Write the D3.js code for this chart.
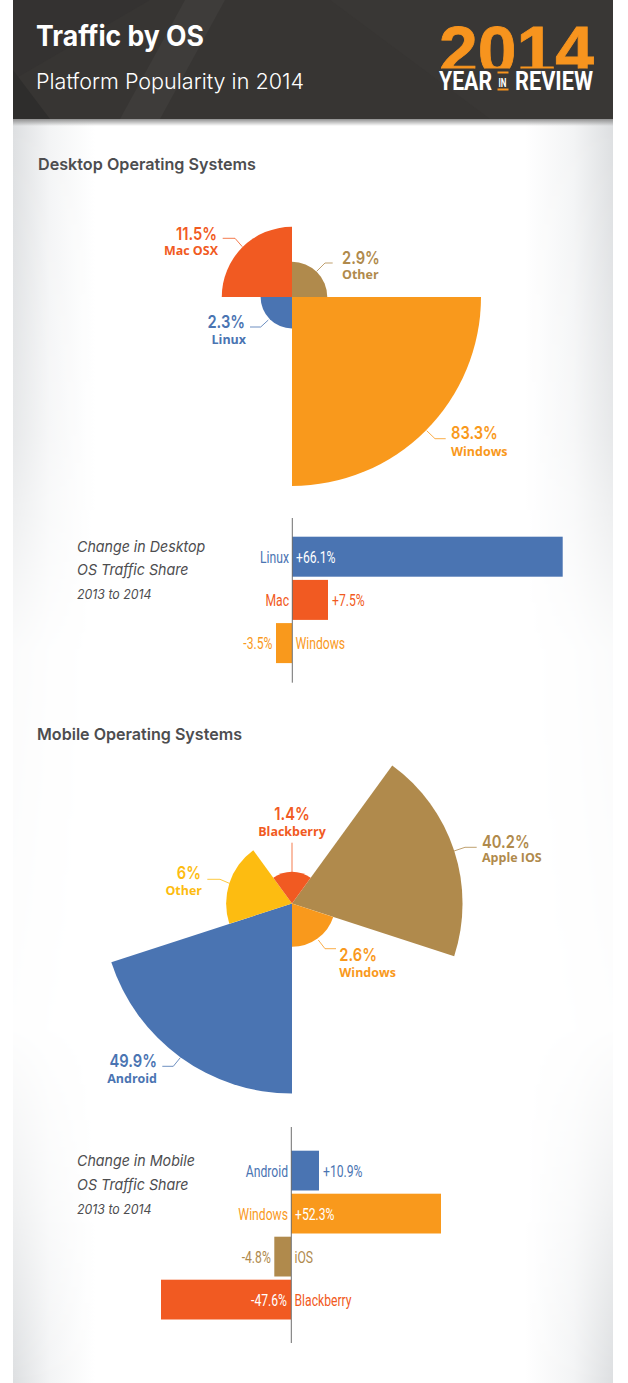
<!DOCTYPE html>
<html><head><meta charset="utf-8">
<script src="https://cdn.jsdelivr.net/npm/d3@7"></script>
<style>html,body{margin:0;padding:0;background:#fff}svg{display:block}</style>
</head><body><svg id="c" width="628" height="1383"></svg>
<script>
// ---- data ----
const desktopOS    = ["Other","Windows","Linux","Mac OSX"];
const desktopShare = [2.9,83.3,2.3,11.5];
const desktopColor = ["#b08a4c","#f9991c","#4a74b2","#f15a22"];
const mobileOS     = ["Apple IOS","Windows","Android","Other","Blackberry"];
const mobileShare  = [40.2,2.6,49.9,6,1.4];
const mobileColor  = ["#b08a4c","#f9991c","#4a74b2","#fdbc11","#f15a22"];
const desktopChangeOS    = ["Linux","Mac","Windows"];
const desktopChange      = [66.1,7.5,-3.5];
const desktopChangeColor = ["#4a74b2","#f15a22","#f9991c"];
const mobileChangeOS     = ["Android","Windows","iOS","Blackberry"];
const mobileChange       = [10.9,52.3,-4.8,-47.6];
const mobileChangeColor  = ["#4a74b2","#f9991c","#b08a4c","#f15a22"];

const svg = d3.select("#c");
const defs = svg.append("defs");
const SANS="Inter, 'Open Sans', sans-serif", NARROW="Roboto,sans-serif";

// ---- panel background ----
function hGrad(id,x1,x2){
  const g=defs.append("linearGradient").attr("id",id).attr("gradientUnits","userSpaceOnUse")
    .attr("x1",x1).attr("x2",x2).attr("y1",0).attr("y2",0);
  g.append("stop").attr("offset",0).attr("stop-color","#dddfe1");
  g.append("stop").attr("offset",.45).attr("stop-color","#f3f4f5");
  g.append("stop").attr("offset",1).attr("stop-color","#fff");
}
hGrad("gl",13,95); hGrad("gr",613,525);
const mg=defs.append("linearGradient").attr("id","mv").attr("gradientUnits","userSpaceOnUse")
  .attr("x1",0).attr("x2",0).attr("y1",120).attr("y2",1383);
[[0,1],[.25,.7],[.42,.12],[.72,.04],[.86,.45],[1,1]].forEach(([o,v])=>
  mg.append("stop").attr("offset",o).attr("stop-color","#fff").attr("stop-opacity",v));
defs.append("mask").attr("id","mk").attr("maskUnits","userSpaceOnUse")
  .attr("x",0).attr("y",0).attr("width",628).attr("height",1383)
  .append("rect").attr("width",628).attr("height",1383).attr("fill","url(#mv)");
svg.append("rect").attr("x",13).attr("y",0).attr("width",600).attr("height",1383).attr("fill","#fff");
const bgG=svg.append("g").attr("mask","url(#mk)");
bgG.append("rect").attr("x",13).attr("y",120).attr("width",90).attr("height",1263).attr("fill","url(#gl)");
bgG.append("rect").attr("x",523).attr("y",120).attr("width",90).attr("height",1263).attr("fill","url(#gr)");

// ---- header ----
const sh=defs.append("linearGradient").attr("id","sh").attr("x1",0).attr("x2",0).attr("y1",0).attr("y2",1);
sh.append("stop").attr("offset",0).attr("stop-color","#8f8f8f");
sh.append("stop").attr("offset",1).attr("stop-color","#8f8f8f").attr("stop-opacity",0);
svg.append("rect").attr("x",13).attr("y",119).attr("width",600).attr("height",7).attr("fill","url(#sh)");
svg.append("rect").attr("x",13).attr("y",0).attr("width",600).attr("height",119).attr("fill","#373533");
[["M13,0H150L13,80Z","#343231"],["M185,0H225L160,119H120Z","#3e3c3a"],["M330,0H613V119H490Z","#393735"],["M13,70L50,119H13Z","#2e2d2c"]]
  .forEach(([d,f])=>svg.append("path").attr("d",d).attr("fill",f));

function text(x,y,s,o){
  const t=svg.append("text").attr("x",x).attr("y",y).text(s)
    .attr("font-family",o.font||SANS).attr("font-size",o.size).attr("fill",o.fill)
    .attr("font-weight",o.weight||400).attr("text-anchor",o.anchor||"start");
  if(o.italic)t.attr("font-style","italic");
  if(o.squeeze){ // condense about the anchor point
    t.attr("transform",`translate(${x},0) scale(${o.squeeze},1) translate(${-x},0)`);
  }
  if(o.len)t.attr("textLength",o.len).attr("lengthAdjust","spacingAndGlyphs");
  return t;
}
text(36,46,"Traffic by OS",{size:28,weight:700,fill:"#fff",len:168});
text(36,89,"Platform Popularity in 2014",{size:22,weight:300,fill:"#fff",len:268});
defs.append("clipPath").attr("id","logo").append("rect").attr("x",430).attr("y",20).attr("width",170).attr("height",48.5);
text(439,74,"2014",{size:69,weight:700,fill:"#f7941e",font:"'Liberation Sans',sans-serif",len:155})
  .attr("clip-path","url(#logo)").attr("stroke","#f7941e").attr("stroke-width",.8);
text(439,90,"YEAR",{size:25,weight:700,fill:"#fff",font:NARROW,len:53});
text(498.5,86.5,"IN",{size:13,weight:700,fill:"#fff",font:NARROW,len:8});
svg.append("rect").attr("x",497.5).attr("y",71.5).attr("width",11).attr("height",2).attr("fill","#f7941e");
svg.append("rect").attr("x",497.5).attr("y",88.5).attr("width",11).attr("height",2).attr("fill","#f7941e");
text(515,90,"REVIEW",{size:25,weight:700,fill:"#fff",font:NARROW,len:78});

// ---- section titles ----
text(38,170,"Desktop Operating Systems",{size:16.5,weight:600,fill:"#4d4d4f",len:218});
text(37,740,"Mobile Operating Systems",{size:16.5,weight:600,fill:"#4d4d4f",len:205});

// ---- rose charts: equal-angle wedges, radius from the square root of the share ----
function rose(cx,cy,names,values,colors,maxR,startDeg,labels){
  const r=d3.scaleSqrt().domain([0,d3.max(values)]).range([0,maxR]);
  const start=startDeg*Math.PI/180;
  const pie=d3.pie().value(()=>1).sort(null).startAngle(start).endAngle(start+2*Math.PI);
  const arc=d3.arc().innerRadius(0).outerRadius(d=>r(d.data.v));
  const g=svg.append("g").attr("transform",`translate(${cx},${cy})`);
  g.selectAll("path").data(pie(values.map((v,i)=>({v,i})))).join("path")
    .attr("d",arc).attr("fill",d=>colors[d.data.i]);
  const line=d3.line();
  names.forEach((n,i)=>{
    const L=labels[i];
    svg.append("path").attr("d",line(L.lead)).attr("fill","none").attr("stroke",colors[i])
      .attr("stroke-width",1).attr("stroke-opacity",.8);
    text(L.x,L.y,values[i]+"%",{size:17.5,weight:600,fill:colors[i],anchor:L.a,squeeze:.84});
    text(L.x2===undefined?L.x:L.x2,L.y+(L.dy||16),n,{size:13,weight:700,fill:colors[i],anchor:L.a,font:"'Open Sans',sans-serif",squeeze:.96});
  });
}
rose(292,297,desktopOS,desktopShare,desktopColor,189,0,[
 {x:342,y:263.7,a:"start",dy:15,lead:[[332.7,263],[325,263],[316.7,271.3]]},
 {x:451,y:439,a:"start",dy:17,lead:[[445.7,438.7],[435,438.7],[426.7,430.7]]},
 {x:245,y:328,a:"end",x2:246,dy:16,lead:[[250,327],[260.7,327],[268.3,320]]},
 {x:217,y:240,a:"end",x2:218,dy:15,lead:[[222.7,238.3],[235,238.3],[242.3,246.7]]}
]);
rose(292,903.5,mobileOS,mobileShare,mobileColor,190,36,[
 {x:482,y:848.3,a:"start",dy:14,lead:[[476.7,847.3],[465,847.3],[454,851]]},
 {x:339.3,y:961,a:"start",dy:16,lead:[[336,948.7],[325,948.7],[318.3,940]]},
 {x:157,y:1067,a:"end",dy:16,lead:[[162.3,1066.3],[173.3,1066.3],[180.3,1057.7]]},
 {x:201,y:879,a:"end",x2:202,dy:16,lead:[[207.3,879.3],[220,879.3],[229.3,883.3]]},
 {x:292,y:820,a:"middle",dy:16,lead:[[292,842.7],[292,872]]}
]);

// ---- change bars. The published bars are not strictly proportional to their labels,
//      so each scale passes through the drawn length at each value. ----
function bars(domain,range,top,step,names,values,colors,axisY,base){
  const x=d3.scaleLinear().domain(domain).range(range);
  const y=d3.scaleBand().domain(names).range([top,top+names.length*step-3.2]).paddingInner(3.2/step).paddingOuter(0);
  const g=svg.append("g");
  g.selectAll("rect").data(values).join("rect")
    .attr("x",d=>Math.min(x(d),x(0))).attr("width",d=>Math.abs(x(d)-x(0)))
    .attr("y",(d,i)=>y(names[i])).attr("height",y.bandwidth()).attr("fill",(d,i)=>colors[i]);
  svg.append("line").attr("x1",x(0)+.3).attr("x2",x(0)+.3).attr("y1",axisY[0]).attr("y2",axisY[1])
    .attr("stroke","#6f6f6f").attr("stroke-width",1);
  const fmt=v=>(v>0?"+":"-")+Math.abs(v)+"%";
  values.forEach((v,i)=>{
    const by=y(names[i])+base, w=Math.abs(x(v)-x(0)), inside=w>100,
      o={font:NARROW,size:16,weight:400,fill:colors[i],squeeze:.76};
    if(v>0){
      text(x(0)-3,by,names[i],{...o,anchor:"end"});
      text(inside?x(0)+4:x(v)+4,by,fmt(v),{...o,fill:inside?"#fff":colors[i]});
    }else{
      text(x(0)+3.5,by,names[i],o);
      text(inside?x(0)-4:x(v)-3.5,by,fmt(v),{...o,anchor:"end",fill:inside?"#fff":colors[i]});
    }
  });
}
bars([-3.5,0,7.5,66.1],[276,292,328,562.7],536.7,43.2,desktopChangeOS,desktopChange,desktopChangeColor,[518,682.7],26);
bars([-47.6,-4.8,0,10.9,52.3],[161,274.3,291,319,441],1150.7,43,mobileChangeOS,mobileChange,mobileChangeColor,[1127,1343],26);

function caption(y,a,b){
  text(77,y,a,{size:15,weight:400,italic:true,fill:"#4d4d4f",squeeze:.95});
  text(77,y+23.5,b,{size:15,weight:400,italic:true,fill:"#4d4d4f",squeeze:.95});
  text(77,y+47.5,"2013 to 2014",{size:13,weight:400,italic:true,fill:"#4d4d4f",squeeze:.95});
}
caption(551.7,"Change in Desktop","OS Traffic Share");
caption(1166.5,"Change in Mobile","OS Traffic Share");
</script></body></html>
